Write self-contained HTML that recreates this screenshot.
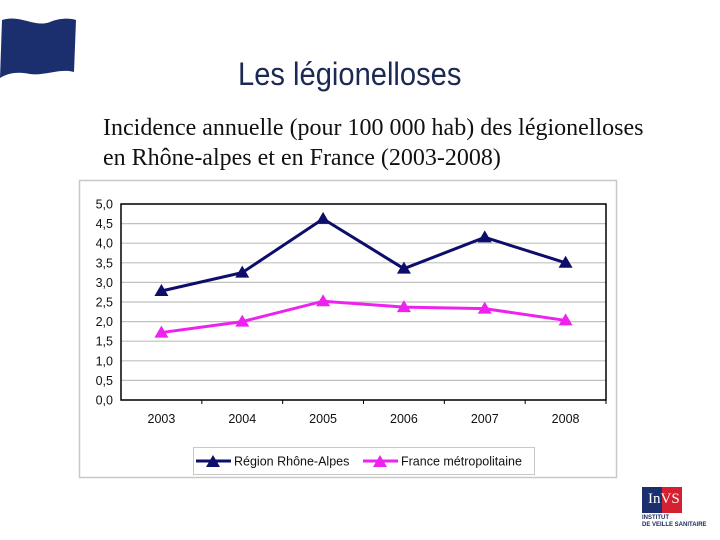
<!DOCTYPE html>
<html><head><meta charset="utf-8"><style>
body{margin:0;width:720px;height:540px;background:#fff;position:relative;overflow:hidden;font-family:"Liberation Sans",sans-serif}
.t{position:absolute;white-space:nowrap}
</style></head><body>
<svg style="position:absolute;left:0;top:14px" width="80" height="68"><path d="M2,6 C20,0 35,14 50,8 C60,4 70,4 76,6 L74,58 C60,54 45,62 30,60 C20,58 10,58 0,64 Z" fill="#1b2f6e"/></svg>
<div class="t" style="left:238px;top:56px;font-size:32px;color:#1b2a55;transform:scaleX(0.91);transform-origin:left">Les légionelloses</div>
<div class="t" style="left:103px;top:113px;font-family:'Liberation Serif',serif;font-size:24px;line-height:30px;color:#111">Incidence annuelle (pour 100 000 hab) des légionelloses<br>en Rhône-alpes et en France (2003-2008)</div>
<svg id="chart" style="position:absolute;left:0;top:0" width="720" height="540"></svg>
<div style="position:absolute;left:642px;top:487px;width:40px;height:26px">
<div style="position:absolute;left:0;top:0;width:20px;height:26px;background:#1b2f6e"></div>
<div style="position:absolute;left:20px;top:0;width:20px;height:26px;background:#d42030"></div>
<div class="t" style="left:6px;top:4px;color:#fff;font-family:'Liberation Serif',serif;font-size:15px">InVS</div></div>
<div class="t" style="left:642px;top:515px;font-size:6px;font-weight:bold;color:#1b2a55;line-height:7px">INSTITUT<br>DE VEILLE SANITAIRE</div>
<script>
const categories=["2003","2004","2005","2006","2007","2008"];
const rhone=[2.78,3.25,4.62,3.35,4.15,3.5];
const france=[1.72,2.0,2.52,2.37,2.33,2.03];
const yTicks=[0,0.5,1,1.5,2,2.5,3,3.5,4,4.5,5];
const NS="http://www.w3.org/2000/svg";
const svg=document.getElementById('chart');
const L=121,R=606,T=204,B=400,ymax=5;
const xs=i=>L+(R-L)/categories.length*(i+0.5);
const ys=v=>B-(B-T)*v/ymax;
function mk(t,a,p){const e=document.createElementNS(NS,t);for(const k in a)e.setAttribute(k,a[k]);(p||svg).appendChild(e);return e;}
const box=mk('rect',{x:79.5,y:180.5,width:537,height:297,fill:'#fff',stroke:'#c8c8c8','stroke-width':1.5});


yTicks.forEach(v=>{
 const g=mk('line',{x1:L,x2:R,y1:ys(v),y2:ys(v),stroke:'#c0c0c0','stroke-width':1.2});
 
 
 const t=mk('text',{x:L-8,y:ys(v)+4.5,'text-anchor':'end','font-size':12.5,fill:'#111'});
 t.textContent=v.toFixed(1).replace('.',',');
 
 
});
const pa=mk('rect',{x:L,y:T,width:R-L,height:B-T,fill:'none',stroke:'#000','stroke-width':1.5});


categories.forEach((c,i)=>{
 const tk=mk('line',{x1:L+(R-L)/categories.length*(i+1),x2:L+(R-L)/categories.length*(i+1),y1:B,y2:B+4,stroke:'#000'});
 
 
 const t=mk('text',{x:xs(i),y:B+23,'text-anchor':'middle','font-size':12.5,fill:'#111'});
 t.textContent=c;
 
 
});
function tri(x,y,c,name){const p=mk('path',{d:`M${x},${y-7} L${x+7},${y+5} L${x-7},${y+5} Z`,fill:c});
 
 }
function series(vals,c,name){
 const pl=mk('polyline',{points:vals.map((v,i)=>xs(i)+','+ys(v)).join(' '),fill:'none',stroke:c,'stroke-width':3});
 
 
 vals.forEach((v,i)=>tri(xs(i),ys(v),c,name+'-marker'));
}
series(rhone,'#0d0d6b','rhone-alpes');
series(france,'#ee22ee','france');
const lg=mk('rect',{x:193.5,y:447.5,width:341,height:27,fill:'#fff',stroke:'#c8c8c8'});


[[196,'#0d0d6b','Région Rhône-Alpes','legend-rhone'],[363,'#ee22ee','France métropolitaine','legend-france']].forEach(([x,c,l,n])=>{
 const ln=mk('line',{x1:x,x2:x+35,y1:461,y2:461,stroke:c,'stroke-width':3});
 
 
 tri(x+17,462,c,n+'-marker');
 const t=mk('text',{x:x+38,y:465.5,'font-size':12.5,fill:'#111'});
 t.textContent=l;
 
 
});
</script>
</body></html>
